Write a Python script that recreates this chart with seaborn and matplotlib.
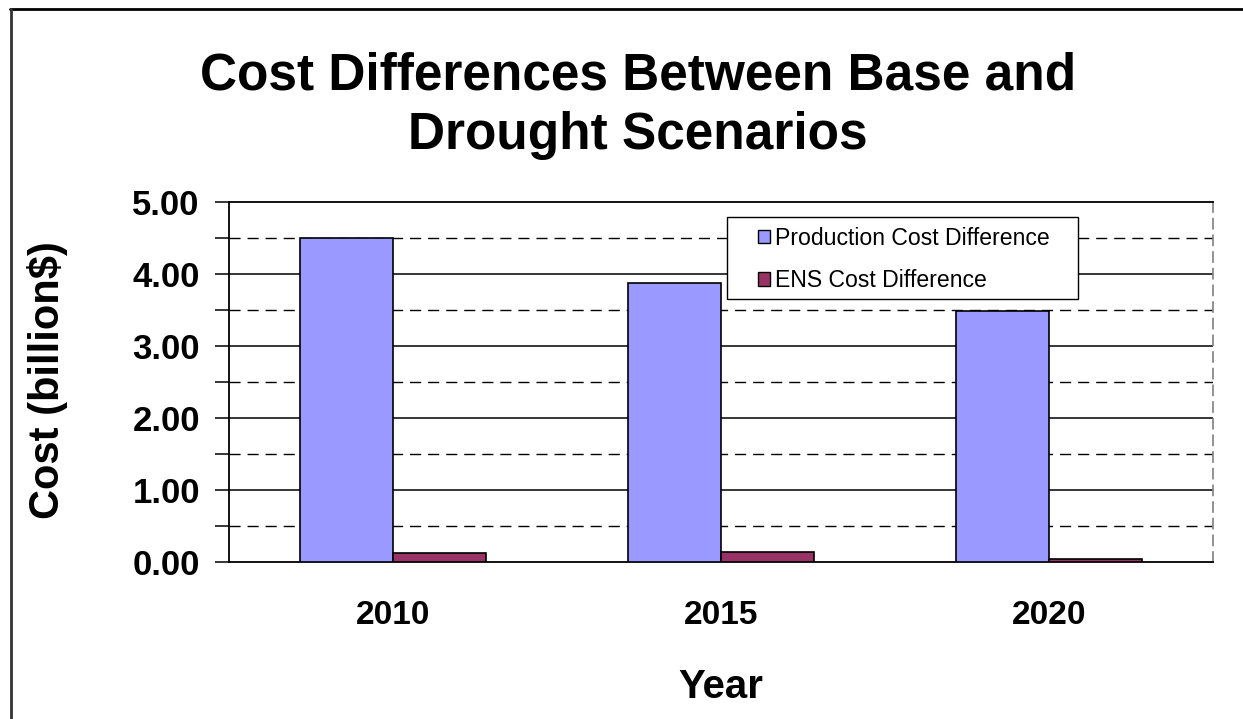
import matplotlib
matplotlib.use("Agg")
import matplotlib.pyplot as plt
import seaborn as sns
import pandas as pd
from matplotlib.lines import Line2D
from matplotlib.patches import Rectangle
from matplotlib.ticker import MultipleLocator, FormatStrFormatter

years = ["2010", "2015", "2020"]
series = ["Production Cost Difference", "ENS Cost Difference"]
production = [4.50, 3.87, 3.49]
ens = [0.12, 0.14, 0.04]
colors = ["#9999FF", "#993366"]

df = pd.DataFrame({
    "Year": years * 2,
    "Series": [series[0]] * 3 + [series[1]] * 3,
    "Cost": production + ens,
})

sns.set_theme(style="white")
plt.rcParams["font.family"] = ["Liberation Sans", "DejaVu Sans"]
for k in ["text.color", "axes.labelcolor", "xtick.color", "ytick.color"]:
    plt.rcParams[k] = "black"

W, H = 1243, 719
fig = plt.figure(figsize=(W / 100, H / 100), dpi=100)
ax = fig.add_axes([229 / W, 1 - 562 / H, (1213 - 229) / W, (562 - 202) / H])

sns.barplot(data=df, x="Year", y="Cost", hue="Series", palette=colors,
            width=0.57, edgecolor="black", linewidth=1.2, ax=ax, legend=False,
            saturation=1, zorder=3)

ax.set_ylim(0, 5)
ax.set_xlim(-0.5, 2.5)
ax.yaxis.set_major_locator(MultipleLocator(1))
ax.yaxis.set_minor_locator(MultipleLocator(0.5))
ax.yaxis.set_major_formatter(FormatStrFormatter("%.2f"))
ax.grid(False)
for v in [1, 2, 3, 4]:
    ax.axhline(v, color="black", lw=1.1, zorder=1)
for v in [0.5, 1.5, 2.5, 3.5, 4.5]:
    ax.axhline(v, color="black", lw=1.0, ls=(0, (8, 5)), zorder=1)

ax.tick_params(axis="y", which="both", direction="out", length=10, width=1.1,
               color="black", left=True, labelsize=25, pad=11)
ax.tick_params(axis="x", which="both", length=0, labelsize=24, pad=27)
for lab in ax.get_yticklabels() + ax.get_xticklabels():
    lab.set_fontweight("bold")

for s in ["left", "bottom", "top"]:
    ax.spines[s].set_visible(True)
    ax.spines[s].set_color("black")
    ax.spines[s].set_linewidth(1.3)
ax.spines["right"].set_color("#808080")
ax.spines["right"].set_linestyle((0, (6, 4)))
ax.spines["right"].set_linewidth(1.2)

ax.set_xlabel("Year", fontsize=29, fontweight="bold")
ax.xaxis.set_label_coords(0.5, (562 - 668) / 360)
ax.set_ylabel("")
fig.text(47 / W, 1 - 380 / H, "Cost (billion$)", rotation=90, ha="center", va="center",
         fontsize=30, fontweight="bold")

# legend frame
frame = Rectangle((727 / W, 1 - 299 / H), (1078 - 727) / W, (299 - 217) / H,
                  transform=fig.transFigure, facecolor="white", edgecolor="black",
                  lw=1.0, zorder=5, clip_on=False)
ax.add_patch(frame)
handles = [plt.Rectangle((0, 0), 1, 1, facecolor=c, edgecolor="black", lw=1) for c in colors]
leg = ax.legend(handles, series, loc="upper left",
                bbox_to_anchor=(753 / W, 1 - 222 / H),
                bbox_transform=fig.transFigure, borderaxespad=0, frameon=False,
                fontsize=16.6, handlelength=0.55, handleheight=0.55, handletextpad=0.2,
                borderpad=0.2, labelspacing=0.85)
leg.set_zorder(7)

title_lines = ["Cost Differences Between Base and", "Drought Scenarios"]
for txt, yp in zip(title_lines, [76, 136]):
    fig.text(638 / W, 1 - yp / H, txt, ha="center", va="center", fontsize=37, fontweight="bold")

fig.add_artist(Line2D([10 / W, 1], [1 - 9 / H, 1 - 9 / H], color="black", lw=2, transform=fig.transFigure))
fig.add_artist(Line2D([11 / W, 11 / W], [0, 1 - 9 / H], color="#333333", lw=2, transform=fig.transFigure))

fig.savefig("out.png", dpi=100, facecolor="white")
